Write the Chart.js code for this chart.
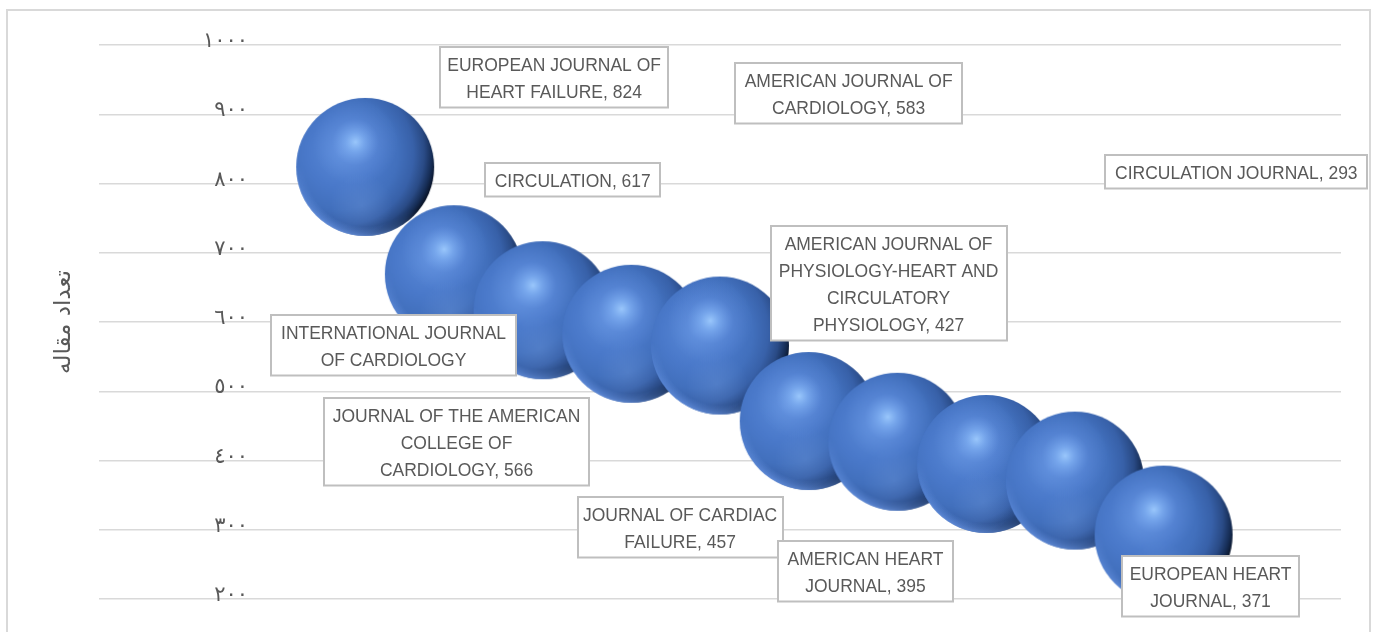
<!DOCTYPE html>
<html><head><meta charset="utf-8">
<script src="https://cdn.jsdelivr.net/npm/chart.js@4.4.1/dist/chart.umd.min.js"></script>
<style>html,body{margin:0;padding:0;background:#fff;}canvas{display:block;}</style>
</head><body>
<canvas id="c" width="1377" height="632"></canvas>
<script>
// ---- data ----
const journals = [
  "EUROPEAN JOURNAL OF HEART FAILURE",
  "INTERNATIONAL JOURNAL OF CARDIOLOGY",
  "CIRCULATION",
  "AMERICAN JOURNAL OF CARDIOLOGY",
  "JOURNAL OF THE AMERICAN COLLEGE OF CARDIOLOGY",
  "JOURNAL OF CARDIAC FAILURE",
  "AMERICAN JOURNAL OF PHYSIOLOGY-HEART AND CIRCULATORY PHYSIOLOGY",
  "AMERICAN HEART JOURNAL",
  "EUROPEAN HEART JOURNAL",
  "CIRCULATION JOURNAL"
];
const journalLines = [
  ["EUROPEAN JOURNAL OF", "HEART FAILURE"],
  ["INTERNATIONAL JOURNAL", "OF CARDIOLOGY"],
  ["CIRCULATION"],
  ["AMERICAN JOURNAL OF", "CARDIOLOGY"],
  ["JOURNAL OF THE AMERICAN", "COLLEGE OF", "CARDIOLOGY"],
  ["JOURNAL OF CARDIAC", "FAILURE"],
  ["AMERICAN JOURNAL OF", "PHYSIOLOGY-HEART AND", "CIRCULATORY", "PHYSIOLOGY"],
  ["AMERICAN HEART", "JOURNAL"],
  ["EUROPEAN HEART", "JOURNAL"],
  ["CIRCULATION JOURNAL"]
];
const ranks = [1, 2, 3, 4, 5, 6, 7, 8, 9, 10];
const articles = [824, 669, 617, 583, 566, 457, 427, 395, 371, 293];
const showValue = [true, false, true, true, true, true, true, true, true, true];
const yMin = 200, yMax = 1000, yStep = 100;
const yTitle = "تعداد مقاله";

// ---- layout (label box anchors in data units, box widths in px) ----
const labelAnchors = [[3.13, 954], [1.32, 567], [3.34, 806], [6.45, 931], [2.03, 427],
                      [4.55, 304], [6.90, 656], [6.64, 240], [10.53, 219], [10.82, 817]];
const labelBoxWidths = [228, 245, 175, 227, 265, 205, 236, 175, 177, 262];
const BUBBLE_R = 69;

// ---- pre-rendered 3D sphere used as the point style ----
function makeSphere(r) {
  const S = 2 * r + 2, c = S / 2;
  const cv = document.createElement('canvas');
  cv.width = S; cv.height = S;
  const g = cv.getContext('2d');
  g.save();
  g.beginPath(); g.arc(c, c, r, 0, Math.PI * 2); g.clip();
  let grd = g.createRadialGradient(c - 0.35 * r, c - 0.2 * r, 0, c - 0.35 * r, c - 0.2 * r, 1.42 * r);
  grd.addColorStop(0, '#5a8ad8');
  grd.addColorStop(0.35, '#4a79ca');
  grd.addColorStop(0.58, '#4270bd');
  grd.addColorStop(0.74, '#3861a9');
  grd.addColorStop(0.85, '#2a4b86');
  grd.addColorStop(0.93, '#162d55');
  grd.addColorStop(1, '#060d1a');
  g.fillStyle = grd; g.fillRect(0, 0, S, S);
  grd = g.createRadialGradient(c - 0.05 * r, c + 0.55 * r, 0, c - 0.05 * r, c + 0.55 * r, 0.45 * r);
  grd.addColorStop(0, 'rgba(120,160,225,0.28)');
  grd.addColorStop(1, 'rgba(120,160,225,0)');
  g.fillStyle = grd; g.fillRect(0, 0, S, S);
  grd = g.createRadialGradient(c - 0.14 * r, c - 0.36 * r, 0, c - 0.14 * r, c - 0.36 * r, 0.62 * r);
  grd.addColorStop(0, 'rgba(160,205,255,0.92)');
  grd.addColorStop(0.22, 'rgba(140,188,252,0.62)');
  grd.addColorStop(0.55, 'rgba(120,165,240,0.22)');
  grd.addColorStop(1, 'rgba(120,165,240,0)');
  g.fillStyle = grd; g.fillRect(0, 0, S, S);
  const rim = document.createElement('canvas'); rim.width = S; rim.height = S;
  const rg = rim.getContext('2d');
  const rgrd = rg.createRadialGradient(c, c, 0.86 * r, c, c, r);
  rgrd.addColorStop(0, 'rgba(110,155,235,0)');
  rgrd.addColorStop(1, 'rgba(110,155,235,0.75)');
  rg.fillStyle = rgrd; rg.fillRect(0, 0, S, S);
  rg.globalCompositeOperation = 'destination-in';
  const lg = rg.createLinearGradient(c + 0.3 * r, c - 0.5 * r, c - 0.3 * r, c + r);
  lg.addColorStop(0, 'rgba(0,0,0,0)');
  lg.addColorStop(0.55, 'rgba(0,0,0,0)');
  lg.addColorStop(1, 'rgba(0,0,0,1)');
  rg.fillStyle = lg; rg.fillRect(0, 0, S, S);
  g.drawImage(rim, 0, 0);
  g.restore();
  return cv;
}
const sphere = makeSphere(BUBBLE_R);

const toArabicDigits = v => String(v).replace(/\d/g, d => '٠١٢٣٤٥٦٧٨٩'[d]);

const framePlugin = {
  id: 'frame',
  beforeDraw(chart) {
    const ctx = chart.ctx;
    ctx.save();
    ctx.fillStyle = '#fff';
    ctx.fillRect(0, 0, chart.width, chart.height);
    ctx.strokeStyle = '#d9d9d9';
    ctx.lineWidth = 2;
    ctx.strokeRect(7, 10, 1363, 700);
    ctx.restore();
  }
};

const yTickPlugin = {
  id: 'yTicks',
  afterDraw(chart) {
    const ys = chart.scales.y, ctx = chart.ctx;
    ctx.save();
    ctx.font = '21px "DejaVu Sans", sans-serif';
    ctx.fillStyle = '#595959';
    ctx.textAlign = 'right';
    ctx.textBaseline = 'alphabetic';
    ys.ticks.forEach(t => {
      const y = ys.getPixelForValue(t.value);
      ctx.fillText(toArabicDigits(t.value), 248, y + 2);
    });
    ctx.restore();
  }
};

const labelPlugin = {
  id: 'boxLabels',
  afterDatasetsDraw(chart) {
    const xs = chart.scales.x, ys = chart.scales.y, ctx = chart.ctx;
    const LH = 27, SX = 0.92;
    ctx.save();
    ctx.font = '19px "Liberation Sans", Arial, sans-serif';
    ctx.textAlign = 'center';
    ctx.textBaseline = 'middle';
    journalLines.forEach((ln, i) => {
      const lines = ln.slice();
      if (showValue[i]) lines[lines.length - 1] += ', ' + articles[i];
      const cx = xs.getPixelForValue(labelAnchors[i][0]);
      const cy = ys.getPixelForValue(labelAnchors[i][1]);
      const w = labelBoxWidths[i], h = lines.length * LH + 6.5;
      const x0 = Math.round(cx - w / 2), y0 = Math.round(cy - h / 2);
      ctx.fillStyle = '#fff';
      ctx.fillRect(x0, y0, w, h);
      ctx.strokeStyle = '#bfbfbf';
      ctx.lineWidth = 2;
      ctx.strokeRect(x0, y0, w, h);
      ctx.fillStyle = '#595959';
      lines.forEach((t, k) => {
        const ly = cy + (k - (lines.length - 1) / 2) * LH + 2;
        ctx.save();
        ctx.translate(cx, ly);
        ctx.scale(SX, 1);
        ctx.fillText(t, 0, 0);
        ctx.restore();
      });
    });
    ctx.restore();
  }
};

new Chart(document.getElementById('c'), {
  type: 'bubble',
  data: {
    datasets: [{
      label: 'journals',
      data: ranks.map((x, i) => ({ x: x, y: articles[i] })),
      radius: BUBBLE_R,
      pointStyle: sphere,
      backgroundColor: '#4472c4',
      borderWidth: 0,
      clip: false
    }]
  },
  options: {
    responsive: false,
    animation: false,
    layout: { autoPadding: false, padding: { left: 0, right: 36, top: 45, bottom: 33 } },
    plugins: { legend: { display: false }, tooltip: { enabled: false } },
    scales: {
      x: { type: 'linear', min: -2, max: 12, display: false },
      y: {
        type: 'linear', min: yMin, max: yMax,
        ticks: { stepSize: yStep, display: false },
        grid: { color: '#d9d9d9', lineWidth: 1.5, drawTicks: false },
        border: { display: false },
        title: {
          display: true, text: yTitle, color: '#595959',
          font: { family: '"DejaVu Sans", sans-serif', size: 23 },
          padding: { top: 50, bottom: 0 }
        },
        afterFit(s) { s.width = 99; }
      }
    }
  },
  plugins: [framePlugin, yTickPlugin, labelPlugin]
});
</script>
</body></html>
